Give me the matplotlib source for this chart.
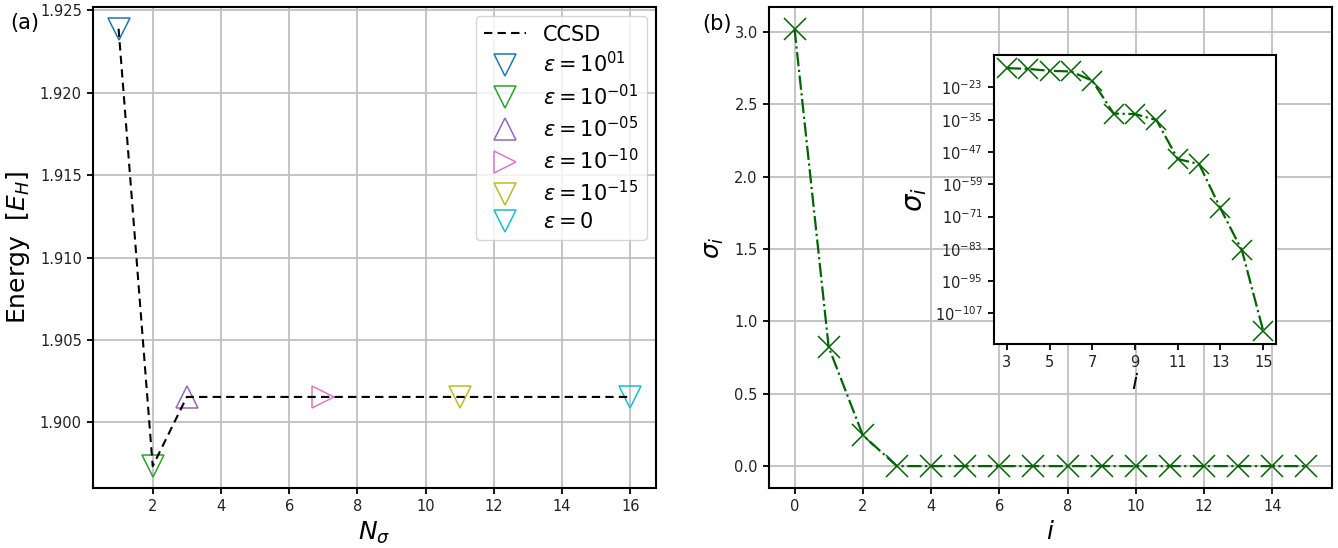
import matplotlib
matplotlib.use('Agg')
import matplotlib.pyplot as plt
from matplotlib.ticker import NullLocator

# (a) energia CCSD segun el numero de valores singulares retenidos
n_sigma = [1, 2, 3, 7, 11, 16]
energy = [1.92389, 1.89734, 1.90154, 1.90154, 1.90154, 1.90154]
eps_labels = [r'$\varepsilon=10^{01}$', r'$\varepsilon=10^{-01}$', r'$\varepsilon=10^{-05}$',
              r'$\varepsilon=10^{-10}$', r'$\varepsilon=10^{-15}$', r'$\varepsilon=0$']
markers = ['v', 'v', '^', '>', 'v', 'v']
colors = ['C0', 'C2', 'C4', 'C6', 'C8', 'C9']

# (b) valores singulares
idx = list(range(16))
sigma = [3.023, 0.823, 0.214, 1.6e-16, 7.9e-17, 1.6e-17, 8.9e-18, 3.2e-21,
         2.0e-33, 1.3e-33, 7.9e-36, 2.5e-50, 3.2e-52, 1.0e-68, 3.2e-84, 3.2e-114]
inset_yticks = [1e-23, 1e-35, 1e-47, 1e-59, 1e-71, 1e-83, 1e-95, 1e-107]

fig = plt.figure(figsize=(13.38, 5.48), dpi=100)
ax1 = fig.add_axes([0.0695, 0.1095, 0.4208, 0.878])
ax2 = fig.add_axes([0.5747, 0.1095, 0.4208, 0.878])
axin = fig.add_axes([0.7429, 0.3723, 0.2108, 0.5274])

for ax in (ax1, ax2, axin):
    for s in ax.spines.values():
        s.set_linewidth(1.5)
    ax.tick_params(width=1.3, length=4.5, labelsize=10.5, colors='k')
    for lab in ax.get_xticklabels() + ax.get_yticklabels():
        lab.set_color('#222222')

# --- panel (a) ---
ax1.plot(n_sigma, energy, 'k--', lw=1.5, dashes=(4, 2.5), label='CCSD', zorder=3)
for n, e, m, c, lab in zip(n_sigma, energy, markers, colors, eps_labels):
    ax1.plot(n, e, m, ms=16, mfc='none', mec=c, mew=1.1, ls='none', label=lab)
ax1.grid(True, color='#c0c0c0', lw=1.3)
ax1.set_axisbelow(True)
ax1.set_xticks([2, 4, 6, 8, 10, 12, 14, 16])
ax1.set_yticks([1.900, 1.905, 1.910, 1.915, 1.920, 1.925])
ax1.set_xlabel(r'$N_\sigma$', fontsize=18)
ax1.set_ylabel(r'Energy  [$E_H$]', fontsize=18, labelpad=6)
ax1.legend(loc='upper right', fontsize=15, borderaxespad=0.45, labelspacing=0.33)

# --- panel (b) ---
ax2.plot(idx, sigma, '-.', color='darkgreen', lw=1.6, marker='x', ms=16, mew=1.1)
ax2.grid(True, color='#c0c0c0', lw=1.3)
ax2.set_axisbelow(True)
ax2.set_xticks(range(0, 16, 2))
ax2.set_xlabel(r'$i$', fontsize=18)
ax2.set_ylabel(r'$\sigma_i$', fontsize=18, labelpad=6)

# inset en escala log para i >= 3
axin.plot(idx[3:], sigma[3:], '-.', color='darkgreen', lw=1.6, marker='x', ms=14, mew=1.1)
axin.set_yscale('log')
axin.set_yticks(inset_yticks)
axin.yaxis.set_minor_locator(NullLocator())
axin.set_xticks(range(3, 16, 2))
axin.set_xlabel(r'$i$', fontsize=16, labelpad=2)
axin.set_ylabel(r'$\sigma_i$', fontsize=20, labelpad=4)

fig.text(25 / 1338, 1 - 23 / 548, '(a)', ha='center', va='center', fontsize=15)
fig.text(717 / 1338, 1 - 24 / 548, '(b)', ha='center', va='center', fontsize=15)

fig.savefig('out.png', dpi=100)
